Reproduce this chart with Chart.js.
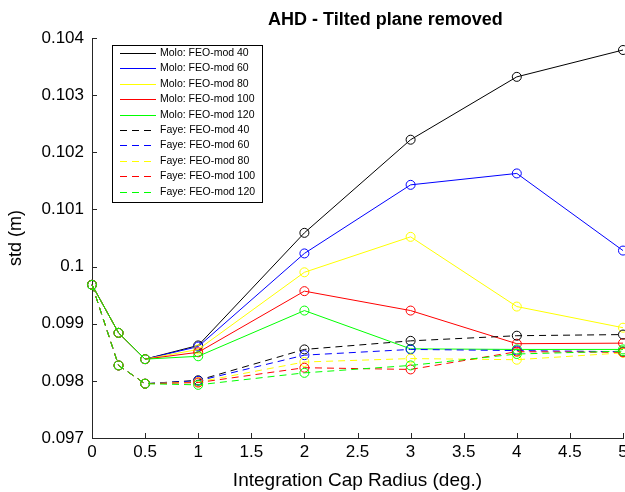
<!DOCTYPE html>
<html>
<head>
<meta charset="utf-8">
<script src="https://cdn.jsdelivr.net/npm/chart.js@4"></script>
<style>
  html, body { margin: 0; padding: 0; background: #fff; }
  #wrap { width: 625px; height: 492px; overflow: hidden; position: relative; }
  canvas { display: block; }
</style>
</head>
<body>
<div id="wrap"><canvas id="stdChart" width="640" height="492"></canvas></div>
<script>
// Integration cap radius (deg.)
const radius = [0, 0.25, 0.5, 1, 2, 3, 4, 5];

// std (m)
const molo40  = [0.09968, 0.09884, 0.09838, 0.09862, 0.10059, 0.10222, 0.10332, 0.10379];
const molo60  = [0.09968, 0.09884, 0.09838, 0.09860, 0.10023, 0.10143, 0.10163, 0.10028];
const molo80  = [0.09968, 0.09884, 0.09838, 0.09855, 0.09990, 0.10052, 0.09930, 0.09893];
const molo100 = [0.09968, 0.09884, 0.09838, 0.09850, 0.09957, 0.09923, 0.09865, 0.09866];
const molo120 = [0.09968, 0.09884, 0.09838, 0.09843, 0.09923, 0.09856, 0.09855, 0.09855];

const faye40  = [0.09968, 0.09827, 0.09795, 0.09801, 0.09855, 0.09870, 0.09879, 0.09881];
const faye60  = [0.09968, 0.09827, 0.09795, 0.09800, 0.09845, 0.09855, 0.09853, 0.09851];
const faye80  = [0.09968, 0.09827, 0.09795, 0.09798, 0.09833, 0.09839, 0.09837, 0.09849];
const faye100 = [0.09968, 0.09827, 0.09795, 0.09797, 0.09823, 0.09820, 0.09851, 0.09850];
const faye120 = [0.09968, 0.09827, 0.09795, 0.09793, 0.09814, 0.09827, 0.09847, 0.09852];

const labels = [
    'Molo: FEO-mod 40', 'Molo: FEO-mod 60', 'Molo: FEO-mod 80', 'Molo: FEO-mod 100', 'Molo: FEO-mod 120',
    'Faye: FEO-mod 40', 'Faye: FEO-mod 60', 'Faye: FEO-mod 80', 'Faye: FEO-mod 100', 'Faye: FEO-mod 120'
];
const series = [molo40, molo60, molo80, molo100, molo120, faye40, faye60, faye80, faye100, faye120];
const colors = ['#000000', '#0000ff', '#ffff00', '#ff0000', '#00ff00'];
const DASH = [7, 5];

const FONT = "'Liberation Sans', Arial, sans-serif";
const TITLE = 'AHD - Tilted plane removed';

const datasets = series.map((vals, i) => {
    const color = colors[i % 5];
    return {
        label: labels[i],
        data: vals.map((v, j) => ({ x: radius[j], y: v })),
        borderColor: color,
        borderWidth: 1,
        borderDash: i >= 5 ? DASH : [],
        pointStyle: 'circle',
        pointRadius: 4.5,
        pointBorderWidth: 1,
        pointBorderColor: color,
        pointBackgroundColor: 'rgba(0,0,0,0)',
        tension: 0,
        fill: false,
        clip: 10,
        order: 20 - i
    };
});

// Inward tick marks like the original axes
const innerTicks = {
    id: 'innerTicks',
    afterDraw(chart) {
        const c = chart.ctx;
        const xs = chart.scales.x, ys = chart.scales.y;
        const area = chart.chartArea;
        c.save();
        c.strokeStyle = '#262626';
        c.lineWidth = 1;
        c.beginPath();
        ys.ticks.forEach(t => {
            const y = Math.round(ys.getPixelForValue(t.value)) + 0.5;
            c.moveTo(area.left, y);
            c.lineTo(area.left + 5, y);
        });
        xs.ticks.forEach(t => {
            const x = Math.round(xs.getPixelForValue(t.value)) + 0.5;
            c.moveTo(x, area.bottom);
            c.lineTo(x, area.bottom - 5);
        });
        c.stroke();
        c.restore();
    }
};

// Title, left edge placed where the original had it
const plotTitle = {
    id: 'plotTitle',
    afterDraw(chart) {
        const c = chart.ctx;
        c.save();
        c.font = 'bold 18px ' + FONT;
        c.fillStyle = '#000';
        c.textBaseline = 'middle';
        c.textAlign = 'left';
        c.fillText(TITLE, chart.chartArea.left + 176, 20);
        c.restore();
    }
};

// Boxed legend inside the upper-left of the plot
const boxLegend = {
    id: 'boxLegend',
    afterDraw(chart) {
        const c = chart.ctx;
        const area = chart.chartArea;
        const left = Math.round(area.left + 20), top = Math.round(area.top + 7);
        const w = 150, h = 157;
        c.save();
        c.fillStyle = '#fff';
        c.fillRect(left, top, w, h);
        c.strokeStyle = '#000';
        c.lineWidth = 1;
        c.strokeRect(left + 0.5, top + 0.5, w, h);
        c.font = '10.5px ' + FONT;
        c.textBaseline = 'middle';
        labels.forEach((lab, i) => {
            const y = Math.round(top + 8 + i * 15.4);
            c.fillStyle = colors[i % 5];
            if (i < 5) {
                c.fillRect(left + 8, y, 36, 1);
            } else {
                for (let x = 0; x < 36; x += DASH[0] + DASH[1]) {
                    c.fillRect(left + 8 + x, y, Math.min(DASH[0], 36 - x), 1);
                }
            }
            c.fillStyle = '#000';
            c.fillText(lab, left + 48, y + 0.5);
        });
        c.restore();
    }
};

const ctx = document.getElementById('stdChart').getContext('2d');
const stdChart = new Chart(ctx, {
    type: 'line',
    data: { datasets: datasets },
    options: {
        responsive: false,
        animation: false,
        layout: { padding: { left: 0, right: 17, top: 38, bottom: 0 } },
        scales: {
            x: {
                type: 'linear',
                min: 0,
                max: 5,
                ticks: {
                    stepSize: 0.5,
                    color: '#000',
                    font: { family: FONT, size: 17 },
                    padding: 4,
                    maxRotation: 0,
                    callback: v => String(v)
                },
                grid: { display: true, drawOnChartArea: false, drawTicks: false },
                border: { display: true, color: '#262626', width: 1 },
                title: {
                    display: true,
                    text: 'Integration Cap Radius (deg.)',
                    color: '#000',
                    font: { family: FONT, size: 19 },
                    padding: { top: 0, bottom: 0 }
                },
                afterFit(scale) { scale.height = 54; }
            },
            y: {
                type: 'linear',
                min: 0.097,
                max: 0.104,
                ticks: {
                    stepSize: 0.001,
                    color: '#000',
                    font: { family: FONT, size: 17 },
                    padding: 8,
                    callback: v => String(parseFloat(v.toFixed(3)))
                },
                grid: { display: true, drawOnChartArea: false, drawTicks: false },
                border: { display: true, color: '#262626', width: 1 },
                title: {
                    display: true,
                    text: 'std (m)',
                    color: '#000',
                    font: { family: FONT, size: 18 },
                    padding: { top: 5, bottom: 4 }
                },
                afterFit(scale) { scale.width = 92; }
            }
        },
        plugins: {
            legend: { display: false },
            tooltip: { enabled: false },
            title: { display: false }
        }
    },
    plugins: [innerTicks, boxLegend, plotTitle]
});
</script>
</body>
</html>
